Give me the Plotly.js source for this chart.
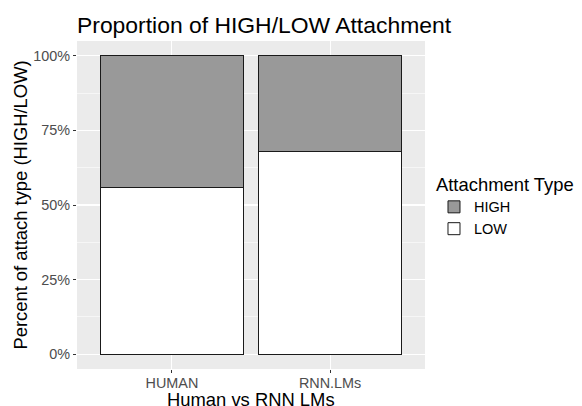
<!DOCTYPE html>
<html>
<head>
<meta charset="utf-8">
<script src="https://cdn.plot.ly/plotly-3.0.1.min.js"></script>
<style>html,body{margin:0;padding:0;background:#fff;}#chart{width:582px;height:406px;}</style>
</head>
<body>
<div id="chart"></div>
<script>
const categories = ["HUMAN", "RNN.LMs"];
const lowShare = [0.56, 0.68];
const highShare = [0.44, 0.32];
const yTickVals = [0, 0.25, 0.5, 0.75, 1];
const yTickText = ["0%", "25%", "50%", "75%", "100%"];
const xTitle = "Human vs RNN LMs";

const font = "Liberation Sans, Arial, Helvetica, sans-serif";

const traces = [
  {type: "bar", name: "LOW", x: categories, y: lowShare, width: 0.9,
   marker: {color: "#FFFFFF", line: {color: "#1a1a1a", width: 1}}, hoverinfo: "skip"},
  {type: "bar", name: "HIGH", x: categories, y: highShare, width: 0.9,
   marker: {color: "#999999", line: {color: "#1a1a1a", width: 1}}, hoverinfo: "skip"}
];

const layout = {
  width: 582, height: 406,
  margin: {l: 77, r: 157, t: 41, b: 37, pad: 0},
  paper_bgcolor: "#FFFFFF",
  plot_bgcolor: "#EBEBEB",
  barmode: "stack",
  font: {family: font, color: "#000000"},
  title: {text: "Proportion of HIGH/LOW Attachment", font: {family: font, size: 22.9, color: "#000000"},
          xref: "paper", x: 0, xanchor: "left", yref: "container", y: 0.938, yanchor: "middle"},
  xaxis: {
    type: "category", range: [-0.6, 1.6],
    showgrid: true, gridcolor: "#FFFFFF", gridwidth: 1.07,
    zeroline: false, showline: false,
    ticks: "outside", ticklen: 3, tickcolor: "#333333", tickwidth: 1,
    ticklabelstandoff: -2,
    tickfont: {family: font, size: 14.4, color: "#4D4D4D"}
  },
  yaxis: {
    range: [-0.05, 1.05],
    tickvals: yTickVals, ticktext: yTickText,
    showgrid: true, gridcolor: "#FFFFFF", gridwidth: 1.07,
    minor: {tickvals: [0.125, 0.375, 0.625, 0.875], showgrid: true, gridcolor: "#FFFFFF", gridwidth: 0.53, ticks: ""},
    zeroline: false, showline: false,
    ticks: "outside", ticklen: 3, tickcolor: "#333333", tickwidth: 1,
    tickfont: {family: font, size: 14.4, color: "#4D4D4D"},
    title: {text: "Percent of attach type (HIGH/LOW)", font: {family: font, size: 18.4, color: "#000000"}, standoff: 0}
  },
  annotations: [
    {text: xTitle, xref: "paper", yref: "paper", x: 0.5, y: -0.0915, xanchor: "center", yanchor: "middle",
     showarrow: false, font: {family: font, size: 18.4, color: "#000000"}}
  ],
  legend: {
    x: 0.7457, xanchor: "left", y: 0.5887, yanchor: "top",
    xref: "container", yref: "container",
    title: {text: "Attachment Type", font: {family: font, size: 18.4, color: "#000000"}},
    font: {family: font, size: 14.5, color: "#000000"},
    traceorder: "reversed", bgcolor: "rgba(0,0,0,0)", borderwidth: 0, tracegroupgap: 0
  },
  showlegend: true
};

Plotly.newPlot("chart", traces, layout, {displayModeBar: false, staticPlot: true});
</script>
</body>
</html>
